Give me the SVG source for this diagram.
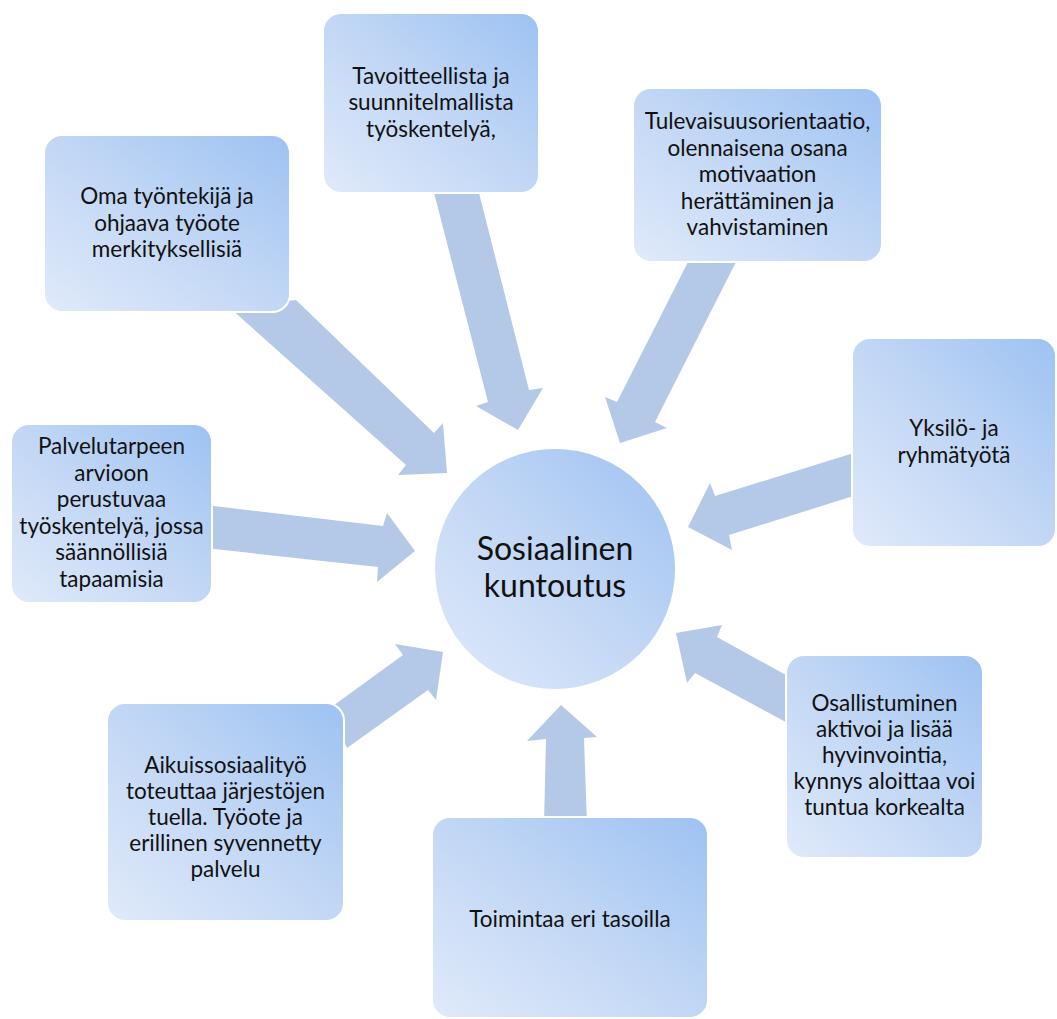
<svg xmlns="http://www.w3.org/2000/svg" width="1057" height="1019" viewBox="0 0 1057 1019">
<defs>
<linearGradient id="g" x1="0" y1="1" x2="1" y2="0">
<stop offset="0" stop-color="#e0eafa"/>
<stop offset="0.5" stop-color="#c2d7f5"/>
<stop offset="1" stop-color="#9dc2f2"/>
</linearGradient>
<style>
.box{fill:url(#g);stroke:#ffffff;stroke-width:2}
.arrow{fill:#b4c9e7}
.t{font-family:Lato,"Liberation Sans",sans-serif;font-size:22.5px;fill:#111111;text-anchor:middle}
.tc{font-family:Lato,"Liberation Sans",sans-serif;font-size:32px;fill:#111111;text-anchor:middle}
</style>
</defs>
<rect width="1057" height="1019" fill="#ffffff"/>
<g id="connectors">
<polygon class="arrow" points="230,308 406,465 398,475 447,473 443,423 434,433 296,300"/>
<polygon class="arrow" points="432,185 488,402 476,406 518,430 543,388 529,390 477,185"/>
<polygon class="arrow" points="690,258 617,402 605,397 620,443 667,428 655,422 738,258"/>
<polygon class="arrow" points="860,451 715,496 710,483 688,527 732,550 729,535 860,494"/>
<polygon class="arrow" points="205,505 383,526 387,513 415,551 377,582 378,567 205,548"/>
<polygon class="arrow" points="330,708 403,655 395,644 443,652 436,700 428,690 347,748"/>
<polygon class="arrow" points="544,825 546,739 527,741 561,705 597,737 584,738 587,825"/>
<polygon class="arrow" points="795,680 717,637 722,625 676,633 687,683 695,673 795,727"/>
</g>
<g id="center">
<circle cx="555" cy="569" r="121" class="box"/>
<text class="tc" x="555" y="560">Sosiaalinen</text>
<text class="tc" x="555" y="597">kuntoutus</text>
</g>
<g id="n-oma">
<rect class="box" x="44" y="135" width="246" height="177" rx="18"/>
<text class="t" x="167" y="204">Oma työntekijä ja</text>
<text class="t" x="167" y="230.5">ohjaava työote</text>
<text class="t" x="167" y="257">merkityksellisiä</text>
</g>
<g id="n-tavoitteellista">
<rect class="box" x="323" y="13" width="216" height="180" rx="18"/>
<text class="t" x="431" y="83.5">Tavoitteellista ja</text>
<text class="t" x="431" y="110">suunnitelmallista</text>
<text class="t" x="431" y="136.5">työskentelyä,</text>
</g>
<g id="n-tulevaisuus">
<rect class="box" x="633" y="88" width="249" height="174" rx="18"/>
<text class="t" x="757.5" y="129">Tulevaisuusorientaatio,</text>
<text class="t" x="757.5" y="155.5">olennaisena osana</text>
<text class="t" x="757.5" y="182">motivaation</text>
<text class="t" x="757.5" y="208.5">herättäminen ja</text>
<text class="t" x="757.5" y="235">vahvistaminen</text>
</g>
<g id="n-yksilo">
<rect class="box" x="852" y="338" width="204" height="209" rx="18"/>
<text class="t" x="954" y="436">Yksilö- ja</text>
<text class="t" x="954" y="463">ryhmätyötä</text>
</g>
<g id="n-palvelutarpeen">
<rect class="box" x="11" y="424" width="201" height="179" rx="18"/>
<text class="t" x="111.5" y="454">Palvelutarpeen</text>
<text class="t" x="111.5" y="480.5">arvioon</text>
<text class="t" x="111.5" y="507">perustuvaa</text>
<text class="t" x="111.5" y="533.5">työskentelyä, jossa</text>
<text class="t" x="111.5" y="560">säännöllisiä</text>
<text class="t" x="111.5" y="586.5">tapaamisia</text>
</g>
<g id="n-aikuis">
<rect class="box" x="107" y="703" width="237" height="218" rx="18"/>
<text class="t" x="225.5" y="773">Aikuissosiaalityö</text>
<text class="t" x="225.5" y="799">toteuttaa järjestöjen</text>
<text class="t" x="225.5" y="825">tuella. Työote ja</text>
<text class="t" x="225.5" y="851">erillinen syvennetty</text>
<text class="t" x="225.5" y="877">palvelu</text>
</g>
<g id="n-toimintaa">
<rect class="box" x="432" y="817" width="276" height="201" rx="18"/>
<text class="t" x="570" y="927">Toimintaa eri tasoilla</text>
</g>
<g id="n-osallistuminen">
<rect class="box" x="786" y="655" width="197" height="203" rx="18"/>
<text class="t" x="884.5" y="711">Osallistuminen</text>
<text class="t" x="884.5" y="737">aktivoi ja lisää</text>
<text class="t" x="884.5" y="763">hyvinvointia,</text>
<text class="t" x="884.5" y="789">kynnys aloittaa voi</text>
<text class="t" x="884.5" y="815">tuntua korkealta</text>
</g>
</svg>
